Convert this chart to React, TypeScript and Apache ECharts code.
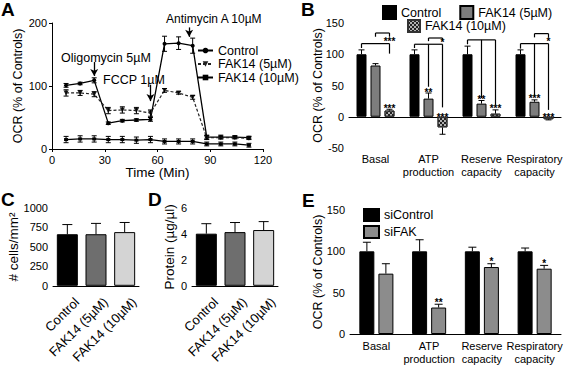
import React, { useEffect, useRef } from 'react';
import * as echarts from 'echarts';

const FONT = '"Liberation Sans", Arial, Helvetica, sans-serif';

// ---------- Panel A: OCR time course ----------
const timePoints = [8, 16, 24, 32, 40, 48, 56, 64, 72, 80, 88, 96, 104, 112];
const controlOCR = [101, 104, 109, 41, 45, 46, 47, 167, 168, 164, 19, 19, 19, 18];
const controlSEM = [3, 2, 4, 2, 2, 2, 3, 12, 10, 12, 3, 3, 2, 2];
const fak5OCR = [89, 89, 87, 61, 62, 61, 57, 93, 89, 82, 18, 18, 18, 17];
const fak5SEM = [5, 4, 4, 5, 5, 5, 5, 3, 2, 3, 3, 2, 2, 2];
const fak10OCR = [15, 16, 16, 15, 15, 14, 15, 12, 12, 12, 8, 8, 8, 6];
const fak10SEM = [5, 5, 5, 5, 5, 5, 5, 4, 4, 4, 3, 3, 3, 3];
// injection arrows: time, arrow start value, arrow end value
const injectionTimes = [24, 56, 78];
const injectionFrom = [138, 102, 193];
const injectionTo = [116, 76, 178];

// ---------- Panel B: mito parameters, FAK14 ----------
const paramCats = ['Basal', 'ATP\nproduction', 'Reserve\ncapacity', 'Respiratory\ncapacity'];
const bControl = [100, 100, 100, 100];
const bControlSEM = [7, 7, 13, 7];
const bFak5 = [82, 29, 21, 24];
const bFak5SEM = [3, 9, 5, 3];
const bFak10 = [10, -17, 5, -4];
const bFak10SEM = [2, 11, 6, 1];
// significance stars: category, bar index, text, value at which text sits
const bStarCat = [0, 1, 1, 2, 2, 3, 3, 0, 1, 3];
const bStarBar = [2, 1, 2, 1, 2, 1, 2, 2, 2, 2];
const bStarText = ['***', '**', '***', '**', '***', '***', '***', '***', '*', '*'];
const bStarAt = [12, 38, -3, 26, 11, 27, -3, 119, 117, 119];
// brackets: category, level, drop bar indices, drop end values
const bBracketCat = [0, 0, 1, 1, 2, 3, 3];
const bBracketLevel = [117, 134, 116, 126, 123, 117, 133];
const bBracketBars = [[0, 2], [1, 2], [0, 1, 2], [1, 2], [0, 1, 2], [0, 1, 2], [1, 2]];
const bBracketEnds = [[110, 101], [128, 128], [110, 48, 15], [121, 121], [116, 30, 19], [109, 32, 11], [127, 127]];

// ---------- Panels C & D ----------
const treatCats = ['Control', 'FAK14 (5µM)', 'FAK14 (10µM)'];
const cellCounts = [663, 663, 690];
const cellSEM = [124, 139, 124];
const protein = [4.02, 4.14, 4.3];
const proteinSEM = [0.77, 0.74, 0.65];

// ---------- Panel E: siRNA ----------
const siControl = [100, 100, 100, 100];
const siControlSEM = [11, 14, 5, 4];
const siFAK = [73, 32, 81, 79];
const siFAKSEM = [12, 4, 4, 4];
const eStarCat = [1, 2, 3];
const eStarText = ['**', '*', '*'];
const eStarAt = [37, 86, 84];

const B_OFFSETS = [-14, 0, 14];
const E_OFFSETS = [-9.5, 9.5];

function axisBase() {
  return {
    axisLine: { lineStyle: { color: '#000', width: 1 } },
    axisTick: { length: 3, lineStyle: { color: '#000', width: 1 } },
    axisLabel: { color: '#000', fontSize: 11, fontFamily: FONT, margin: 5, formatter: (v: any) => String(v) },
    splitLine: { show: false },
    nameMoveOverlap: false,
    nameTextStyle: { color: '#000', fontSize: 12.5, fontFamily: FONT },
  };
}

function errSeries(
  xi: number,
  yi: number,
  data: number[][],
  offset: number,
  cap: number,
  symmetric: boolean,
  lw = 1
) {
  return {
    type: 'custom',
    xAxisIndex: xi,
    yAxisIndex: yi,
    silent: true,
    z: 4,
    data,
    renderItem: (params: any, api: any) => {
      const x = api.value(0);
      const v = api.value(1);
      const e = api.value(2);
      const dir = v < 0 ? -1 : 1;
      const hi = api.coord([x, symmetric ? v + e : v + dir * e]);
      const lo = api.coord([x, symmetric ? v - e : v]);
      const cx = hi[0] + offset;
      const st = { stroke: '#000', lineWidth: lw };
      const children: any[] = [
        { type: 'line', shape: { x1: cx, y1: lo[1], x2: cx, y2: hi[1] }, style: st },
        { type: 'line', shape: { x1: cx - cap, y1: hi[1], x2: cx + cap, y2: hi[1] }, style: st },
      ];
      if (symmetric) {
        children.push({ type: 'line', shape: { x1: cx - cap, y1: lo[1], x2: cx + cap, y2: lo[1] }, style: st });
      }
      return { type: 'group', children };
    },
  };
}

function starSeries(xi: number, yi: number, cats: number[], bars: number[], texts: string[], at: number[], offsets: number[]) {
  return {
    type: 'custom',
    xAxisIndex: xi,
    yAxisIndex: yi,
    silent: true,
    z: 5,
    data: cats.map((c, i) => [c, at[i]]),
    renderItem: (params: any, api: any) => {
      const i = params.dataIndex;
      const p = api.coord([api.value(0), api.value(1)]);
      return {
        type: 'text',
        x: p[0] + offsets[bars[i]],
        y: p[1] + 4,
        style: {
          text: texts[i],
          fontSize: 10,
          fontFamily: FONT,
          fontWeight: 'bold',
          fill: '#000',
          align: 'center',
          verticalAlign: 'bottom',
        },
      };
    },
  };
}

function bracketSeries() {
  return {
    type: 'custom',
    xAxisIndex: 1,
    yAxisIndex: 1,
    silent: true,
    z: 5,
    data: bBracketCat.map((c, i) => [c, bBracketLevel[i]]),
    renderItem: (params: any, api: any) => {
      const i = params.dataIndex;
      const cat = api.value(0);
      const base = api.coord([cat, api.value(1)]);
      const bars = bBracketBars[i];
      const ends = bBracketEnds[i];
      const st = { stroke: '#000', lineWidth: 1.2 };
      const xs = bars.map((b) => base[0] + B_OFFSETS[b]);
      const children: any[] = [
        { type: 'line', shape: { x1: Math.min(...xs), y1: base[1], x2: Math.max(...xs), y2: base[1] }, style: st },
      ];
      bars.forEach((b, k) => {
        const yEnd = api.coord([cat, ends[k]])[1];
        children.push({ type: 'line', shape: { x1: xs[k], y1: base[1], x2: xs[k], y2: yEnd }, style: st });
      });
      return { type: 'group', children };
    },
  };
}

const decalChecker = {
  symbol: 'rect',
  symbolSize: 1,
  color: '#222',
  dashArrayX: [[2, 2], [0, 2, 2, 0]],
  dashArrayY: [2, 0],
  rotation: 0,
};

const rotatedLabel = {
  color: '#000',
  fontSize: 13,
  fontFamily: FONT,
  rotate: 45,
  interval: 0,
  margin: -4,
  verticalAlign: 'top',
  padding: [13, 6, 0, 0],
};

export default function App() {
  const ref = useRef<HTMLDivElement>(null);

  useEffect(() => {
    if (!ref.current) return;
    const chart = echarts.init(ref.current, undefined, { renderer: 'svg' });
    const ab = axisBase;

    const option: any = {
      animation: false,
      backgroundColor: '#fff',
      textStyle: { fontFamily: FONT, color: '#000' },
      grid: [
        { left: 52, top: 23, width: 211, height: 126 },
        { left: 349, top: 23, width: 212, height: 125 },
        { left: 53, top: 208, width: 86, height: 86 },
        { left: 192, top: 208, width: 86, height: 86 },
        { left: 350, top: 210, width: 211, height: 124 },
      ],
      xAxis: [
        {
          ...ab(),
          gridIndex: 0,
          type: 'value',
          min: 0,
          max: 120,
          interval: 30,
          name: 'Time (Min)',
          nameLocation: 'middle',
          nameGap: 16,
          nameTextStyle: { color: '#000', fontSize: 13.5, fontFamily: FONT },
        },
        {
          ...ab(),
          gridIndex: 1,
          type: 'category',
          data: paramCats,
          axisLine: { onZero: true, lineStyle: { color: '#000', width: 1.2 } },
          axisTick: { show: false },
          axisLabel: { show: false },
        },
        {
          ...ab(),
          gridIndex: 1,
          type: 'category',
          position: 'bottom',
          data: paramCats,
          axisLine: { show: false, onZero: false },
          axisTick: { show: false },
          axisLabel: { color: '#000', fontSize: 11, fontFamily: FONT, margin: 4, lineHeight: 13, interval: 0 },
        },
        {
          ...ab(),
          gridIndex: 2,
          type: 'category',
          data: treatCats,
          axisTick: { alignWithLabel: true, length: 3, lineStyle: { color: '#000' } },
          axisLabel: rotatedLabel,
        },
        {
          ...ab(),
          gridIndex: 3,
          type: 'category',
          data: treatCats,
          axisTick: { alignWithLabel: true, length: 3, lineStyle: { color: '#000' } },
          axisLabel: rotatedLabel,
        },
        {
          ...ab(),
          gridIndex: 4,
          type: 'category',
          data: paramCats,
          axisTick: { alignWithLabel: true, length: 2, lineStyle: { color: '#000' } },
          axisLabel: { color: '#000', fontSize: 11, fontFamily: FONT, margin: 5, lineHeight: 13, interval: 0 },
        },
      ],
      yAxis: [
        {
          ...ab(),
          gridIndex: 0,
          type: 'value',
          min: 0,
          max: 200,
          interval: 100,
          name: 'OCR (% of Controls)',
          nameLocation: 'middle',
          nameGap: 28,
        },
        {
          ...ab(),
          gridIndex: 1,
          type: 'value',
          min: -50,
          max: 150,
          interval: 50,
          name: 'OCR (% of Controls)',
          nameLocation: 'middle',
          nameGap: 25,
        },
        {
          ...ab(),
          gridIndex: 2,
          type: 'value',
          min: 0,
          max: 1000,
          interval: 250,
          name: '# cells/mm²',
          nameLocation: 'middle',
          nameGap: 33,
          nameTextStyle: { color: '#000', fontSize: 13.5, fontFamily: FONT },
        },
        {
          ...ab(),
          gridIndex: 3,
          type: 'value',
          min: 0,
          max: 6,
          interval: 2,
          name: 'Protein (µg/µl)',
          nameLocation: 'middle',
          nameGap: 16,
          nameTextStyle: { color: '#000', fontSize: 13.5, fontFamily: FONT },
        },
        {
          ...ab(),
          gridIndex: 4,
          type: 'value',
          min: 0,
          max: 150,
          interval: 50,
          name: 'OCR (% of Controls)',
          nameLocation: 'middle',
          nameGap: 26,
        },
      ],
      legend: [
        {
          orient: 'vertical',
          left: 197,
          top: 44,
          padding: 0,
          itemWidth: 15,
          itemHeight: 7,
          itemGap: 0.5,
          selectedMode: false,
          textStyle: { fontSize: 12.5, fontFamily: FONT, color: '#000', lineHeight: 13 },
          data: ['Control', 'FAK14 (5µM)', 'FAK14 (10µM)'],
        },
        {
          orient: 'horizontal',
          left: 382,
          top: 5,
          padding: 0,
          itemWidth: 13,
          itemHeight: 13,
          itemGap: 18,
          icon: 'rect',
          selectedMode: false,
          formatter: (n: string) => n.split('|')[0],
          textStyle: { fontSize: 12.5, fontFamily: FONT, color: '#000' },
          data: ['Control|B', 'FAK14 (5µM)|B'],
        },
        {
          orient: 'horizontal',
          left: 407,
          top: 19,
          padding: 0,
          itemWidth: 12,
          itemHeight: 12,
          icon: 'rect',
          selectedMode: false,
          formatter: (n: string) => n.split('|')[0],
          textStyle: { fontSize: 12.5, fontFamily: FONT, color: '#000' },
          data: ['FAK14 (10µM)|B'],
        },
        {
          orient: 'vertical',
          left: 363,
          top: 208,
          padding: 0,
          itemWidth: 15,
          itemHeight: 12,
          itemGap: 3,
          icon: 'rect',
          selectedMode: false,
          textStyle: { fontSize: 12.5, fontFamily: FONT, color: '#000' },
          data: ['siControl', 'siFAK'],
        },
      ],
      graphic: [
        { type: 'text', left: 1, top: 0, style: { text: 'A', fontSize: 19, fontWeight: 'bold', fontFamily: FONT, fill: '#000' } },
        { type: 'text', left: 301, top: 0, style: { text: 'B', fontSize: 19, fontWeight: 'bold', fontFamily: FONT, fill: '#000' } },
        { type: 'text', left: 1, top: 190, style: { text: 'C', fontSize: 19, fontWeight: 'bold', fontFamily: FONT, fill: '#000' } },
        { type: 'text', left: 148, top: 190, style: { text: 'D', fontSize: 19, fontWeight: 'bold', fontFamily: FONT, fill: '#000' } },
        { type: 'text', left: 302, top: 191, style: { text: 'E', fontSize: 19, fontWeight: 'bold', fontFamily: FONT, fill: '#000' } },
        { type: 'text', left: 61, top: 51, style: { text: 'Oligomycin 5µM', fontSize: 12.5, fontFamily: FONT, fill: '#000' } },
        { type: 'text', left: 103, top: 73, style: { text: 'FCCP 1µM', fontSize: 12.5, fontFamily: FONT, fill: '#000' } },
        { type: 'text', left: 166, top: 13, style: { text: 'Antimycin A 10µM', fontSize: 12, fontFamily: FONT, fill: '#000' } },
      ],
      series: [
        // ----- A
        {
          type: 'line',
          name: 'Control',
          xAxisIndex: 0,
          yAxisIndex: 0,
          data: timePoints.map((t, i) => [t, controlOCR[i]]),
          symbol: 'circle',
          symbolSize: 4,
          lineStyle: { color: '#000', width: 1.3 },
          itemStyle: { color: '#000' },
          z: 3,
          markLine: {
            silent: true,
            symbol: ['none', 'arrow'],
            symbolSize: [6, 7],
            label: { show: false },
            lineStyle: { color: '#000', width: 1.3, type: 'solid' },
            data: injectionTimes.map((t, i) => [{ coord: [t, injectionFrom[i]] }, { coord: [t, injectionTo[i]] }]),
          },
        },
        {
          type: 'line',
          name: 'FAK14 (5µM)',
          xAxisIndex: 0,
          yAxisIndex: 0,
          data: timePoints.map((t, i) => [t, fak5OCR[i]]),
          symbol: 'triangle',
          symbolRotate: 180,
          symbolSize: 5,
          lineStyle: { color: '#222', width: 1.2, type: [3, 2] },
          itemStyle: { color: '#222' },
          z: 3,
        },
        {
          type: 'line',
          name: 'FAK14 (10µM)',
          xAxisIndex: 0,
          yAxisIndex: 0,
          data: timePoints.map((t, i) => [t, fak10OCR[i]]),
          symbol: 'rect',
          symbolSize: [4, 3],
          lineStyle: { color: '#000', width: 1.3 },
          itemStyle: { color: '#000' },
          z: 3,
        },
        errSeries(0, 0, timePoints.map((t, i) => [t, controlOCR[i], controlSEM[i]]), 0, 2.5, true),
        errSeries(0, 0, timePoints.map((t, i) => [t, fak5OCR[i], fak5SEM[i]]), 0, 2.5, true),
        errSeries(0, 0, timePoints.map((t, i) => [t, fak10OCR[i], fak10SEM[i]]), 0, 2.5, true),
        // ----- B
        {
          type: 'bar',
          name: 'Control|B',
          xAxisIndex: 1,
          yAxisIndex: 1,
          data: bControl,
          barWidth: 10,
          barGap: '40%',
          itemStyle: { color: '#000', borderColor: '#000', borderWidth: 1 },
        },
        {
          type: 'bar',
          name: 'FAK14 (5µM)|B',
          xAxisIndex: 1,
          yAxisIndex: 1,
          data: bFak5,
          barWidth: 10,
          barGap: '40%',
          itemStyle: { color: '#7d7d7d', borderColor: '#000', borderWidth: 1 },
        },
        {
          type: 'bar',
          name: 'FAK14 (10µM)|B',
          xAxisIndex: 1,
          yAxisIndex: 1,
          data: bFak10,
          barWidth: 10,
          barGap: '40%',
          itemStyle: { color: '#b0b0b0', borderColor: '#333', borderWidth: 1, decal: decalChecker },
        },
        errSeries(1, 1, bControl.map((v, i) => [i, v, bControlSEM[i]]), B_OFFSETS[0], 3, false),
        errSeries(1, 1, bFak5.map((v, i) => [i, v, bFak5SEM[i]]), B_OFFSETS[1], 3, false),
        errSeries(1, 1, bFak10.map((v, i) => [i, v, bFak10SEM[i]]), B_OFFSETS[2], 3, false),
        bracketSeries(),
        starSeries(1, 1, bStarCat, bStarBar, bStarText, bStarAt, B_OFFSETS),
        // ----- C
        {
          type: 'bar',
          name: 'cells',
          xAxisIndex: 3,
          yAxisIndex: 2,
          barWidth: 21,
          data: cellCounts.map((v, i) => ({
            value: v,
            itemStyle: { color: ['#000', '#6e6e6e', '#d4d4d4'][i], borderColor: '#000', borderWidth: 1 },
          })),
        },
        errSeries(3, 2, cellCounts.map((v, i) => [i, v, cellSEM[i]]), 0, 5, false),
        // ----- D
        {
          type: 'bar',
          name: 'protein',
          xAxisIndex: 4,
          yAxisIndex: 3,
          barWidth: 21,
          data: protein.map((v, i) => ({
            value: v,
            itemStyle: { color: ['#000', '#6e6e6e', '#d4d4d4'][i], borderColor: '#000', borderWidth: 1 },
          })),
        },
        errSeries(4, 3, protein.map((v, i) => [i, v, proteinSEM[i]]), 0, 5, false),
        // ----- E
        {
          type: 'bar',
          name: 'siControl',
          xAxisIndex: 5,
          yAxisIndex: 4,
          data: siControl,
          barWidth: 15,
          barGap: '27%',
          itemStyle: { color: '#000', borderColor: '#000', borderWidth: 1 },
        },
        {
          type: 'bar',
          name: 'siFAK',
          xAxisIndex: 5,
          yAxisIndex: 4,
          data: siFAK,
          barWidth: 15,
          barGap: '27%',
          itemStyle: { color: '#8c8c8c', borderColor: '#000', borderWidth: 1 },
        },
        errSeries(5, 4, siControl.map((v, i) => [i, v, siControlSEM[i]]), E_OFFSETS[0], 4, false),
        errSeries(5, 4, siFAK.map((v, i) => [i, v, siFAKSEM[i]]), E_OFFSETS[1], 4, false),
        starSeries(5, 4, eStarCat, eStarCat.map(() => 1), eStarText, eStarAt, E_OFFSETS),
      ],
    };

    chart.setOption(option);
    return () => chart.dispose();
  }, []);

  return (
    <div
      ref={ref}
      style={{ position: 'fixed', left: 0, top: 0, width: 567, height: 366, background: '#fff' }}
    />
  );
}
